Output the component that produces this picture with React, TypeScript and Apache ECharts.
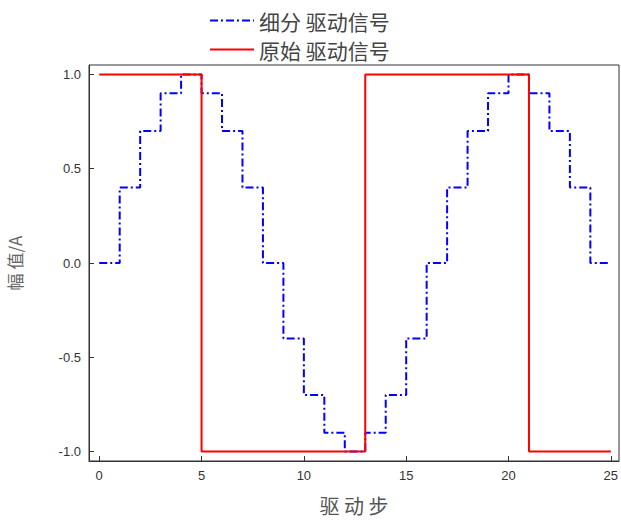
import React, { useEffect, useRef } from "react";
import * as echarts from "echarts";

const stepsX = [0, 1, 2, 3, 4, 5, 6, 7, 8, 9, 10, 11, 12, 13, 14, 15, 16, 17, 18, 19, 20, 21, 22, 23, 24, 25];
const fineValues = [0, 0.4, 0.7, 0.9, 1.0, 0.9, 0.7, 0.4, 0, -0.4, -0.7, -0.9, -1.0, -0.9, -0.7, -0.4, 0, 0.4, 0.7, 0.9, 1.0, 0.9, 0.7, 0.4, 0, 0];
const rawX = [0, 5, 13, 21, 25];
const rawValues = [1, -1, 1, -1, -1];
const xTicks = [0, 5, 10, 15, 20, 25];
const yTicks = [-1.0, -0.5, 0.0, 0.5, 1.0];
const seriesNames = ["细分 驱动信号", "原始 驱动信号"];

export default function App() {
  const ref = useRef<HTMLDivElement>(null);
  useEffect(() => {
    const chart = echarts.init(ref.current!, null, { renderer: "svg" });
    const labelStyle = { color: "#333", fontSize: 13, fontFamily: "Liberation Sans" };
    chart.setOption({
      animation: false,
      backgroundColor: "#fff",
      legend: {
        orient: "vertical",
        left: 204,
        top: 5,
        itemWidth: 44,
        itemHeight: 14,
        itemGap: 8,
        itemStyle: { opacity: 0, borderWidth: 0 },
        textStyle: { color: "#444", fontSize: 21, lineHeight: 21, fontFamily: "Noto Sans CJK SC" },
        data: seriesNames,
      },
      grid: {
        left: 89,
        right: 2,
        top: 65,
        bottom: 60,
        show: true,
        borderColor: "#333",
        borderWidth: 1,
        containLabel: false,
        outerBoundsMode: "none",
      },
      xAxis: {
        type: "value",
        min: -0.5,
        max: 25.4,
        name: "驱 动 步",
        nameLocation: "middle",
        nameGap: 34,
        nameTextStyle: { color: "#555", fontSize: 20, fontFamily: "Noto Sans CJK SC" },
        axisLine: { show: true, onZero: false, lineStyle: { color: "#333", width: 1 } },
        axisTick: { show: true, inside: true, length: 5, customValues: xTicks, lineStyle: { color: "#333" } },
        axisLabel: { ...labelStyle, margin: 8, customValues: xTicks },
        splitLine: { show: false },
      },
      yAxis: {
        type: "value",
        min: -1.05,
        max: 1.05,
        name: "幅 值/A",
        nameLocation: "middle",
        nameGap: 66,
        nameTextStyle: { color: "#666", fontSize: 17, fontFamily: "Noto Sans CJK SC" },
        axisLine: { show: true, onZero: false, lineStyle: { color: "#333", width: 1 } },
        axisTick: { show: true, inside: true, length: 5, customValues: yTicks, lineStyle: { color: "#333" } },
        axisLabel: { ...labelStyle, margin: 8, customValues: yTicks, formatter: (v: number) => v.toFixed(1) },
        splitLine: { show: false },
      },
      series: [
        {
          name: seriesNames[0],
          type: "line",
          step: "end",
          symbol: "none",
          data: stepsX.map((x, i) => [x, fineValues[i]]),
          lineStyle: { color: "#0000ff", width: 2, type: [8, 3, 2, 3] },
          itemStyle: { color: "#0000ff" },
          z: 2,
        },
        {
          name: seriesNames[1],
          type: "line",
          step: "end",
          symbol: "none",
          data: rawX.map((x, i) => [x, rawValues[i]]),
          lineStyle: { color: "#ff0000", width: 2, type: "solid" },
          itemStyle: { color: "#ff0000" },
          z: 3,
        },
      ],
    });
    return () => chart.dispose();
  }, []);
  return <div ref={ref} style={{ width: 621, height: 521, position: "absolute", left: 0, top: 0 }} />;
}
